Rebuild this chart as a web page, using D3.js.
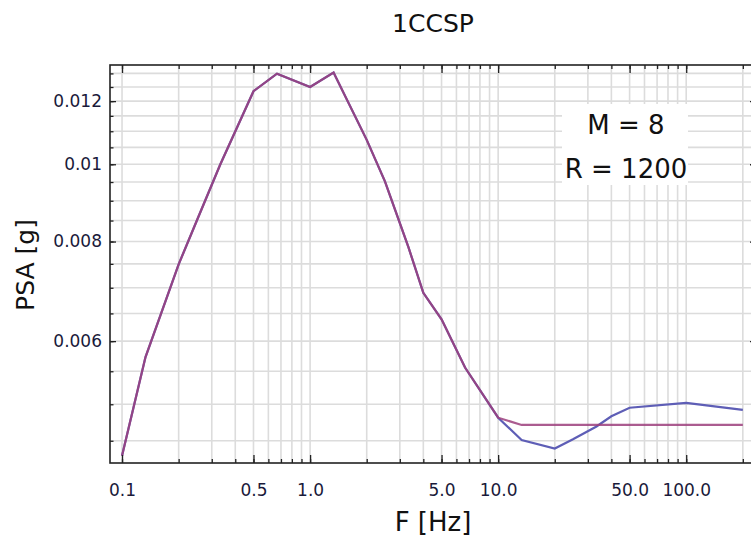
<!DOCTYPE html>
<html>
<head>
<meta charset="utf-8">
<script src="https://cdn.jsdelivr.net/npm/d3@7"></script>
<style>
  body { margin: 0; background: #fff; }
  svg { display: block; font-family: "DejaVu Sans", sans-serif; }
</style>
</head>
<body>
<svg id="chart" width="751" height="544"></svg>
<script>
// frequencies [Hz]
let freqs = [0.1, 0.1333, 0.2, 0.25, 0.3333, 0.5, 0.6667, 1, 1.333, 2, 2.5, 3.333, 4, 5, 6.667, 10,
             13.33, 20, 25, 33.33, 40, 50, 100, 200]

// PSA [g], two curves (they coincide below 10 Hz)
let psaBlue = [0.00431, 0.00573, 0.00749, 0.0085, 0.0100, 0.01235, 0.01299, 0.0125, 0.01303, 0.01073,
               0.00952, 0.00787, 0.0069, 0.00639, 0.00556, 0.00481,
               0.00451, 0.00440, 0.00452, 0.00469, 0.00483, 0.00495, 0.00502, 0.00492]
let psaPurple = [0.00431, 0.00573, 0.00749, 0.0085, 0.0100, 0.01235, 0.01299, 0.0125, 0.01303, 0.01073,
                 0.00952, 0.00787, 0.0069, 0.00639, 0.00556, 0.00481,
                 0.00471, 0.00471, 0.00471, 0.00471, 0.00471, 0.00471, 0.00471, 0.00471]

let xMajor = [0.1, 0.5, 1, 5, 10, 50, 100]
let xLabels = ['0.1', '0.5', '1.0', '5.0', '10.0', '50.0', '100.0']
let yMajor = [0.006, 0.008, 0.01, 0.012]
let yLabels = ['0.006', '0.008', '0.01', '0.012']

let title = '1CCSP'
let noteLines = ['M = 8', 'R = 1200']

// minor grid/tick positions
let xMinor = [0.1, 1, 10, 100].flatMap(d => d3.range(1, 10).map(k => +(k * d).toPrecision(3)))
    .filter(v => v <= 200)
let yMinor = d3.range(9, 27).map(k => +(k * 0.0005).toFixed(4))

let svg = d3.select('#chart')
let pLeft = 110, pRight = 756, pTop = 65, pBottom = 463

let x = d3.scaleLog().domain([0.0863, 235]).range([pLeft, pRight])
let y = d3.scaleLog().domain([0.00422, 0.01332]).range([pBottom, pTop])

// grid
svg.append('g').selectAll('line').data(xMinor).enter().append('line')
    .attr('x1', d => x(d)).attr('x2', d => x(d))
    .attr('y1', pTop).attr('y2', pBottom)
    .style('stroke', '#dcdcdc').style('stroke-width', 1.6)
svg.append('g').selectAll('line').data(yMinor).enter().append('line')
    .attr('x1', pLeft).attr('x2', pRight)
    .attr('y1', d => y(d)).attr('y2', d => y(d))
    .style('stroke', '#dcdcdc').style('stroke-width', 1.6)

// lines
let line = d3.line().x(d => x(d[0])).y(d => y(d[1]))
svg.append('path')
    .datum(freqs.map((f, i) => [f, psaBlue[i]]))
    .attr('d', line)
    .style('fill', 'none').style('stroke', '#5e5eb6').style('stroke-width', 2.2)
svg.append('path')
    .datum(freqs.map((f, i) => [f, psaPurple[i]]))
    .attr('d', line)
    .style('fill', 'none').style('stroke', '#9c3f7c').style('stroke-width', 2.2)
    .style('stroke-opacity', 0.85)

// note box
let note = svg.append('g')
note.append('rect')
    .attr('x', 562).attr('y', 104).attr('width', 126).attr('height', 81)
    .style('fill', '#fff')
note.selectAll('text').data(noteLines).enter().append('text')
    .attr('x', 626)
    .attr('y', (d, i) => 134 + i * 44)
    .attr('text-anchor', 'middle')
    .style('font-size', '26px')
    .style('fill', '#111')
    .text(d => d)

// axes: ticks point inward
let styleAxis = (g) => {
    g.select('.domain').remove()
    g.selectAll('line').style('stroke', '#222').style('stroke-width', 1.3)
    g.selectAll('text').style('font-size', '17px').style('fill', '#1a1a3a')
        .style('font-family', '"DejaVu Sans", sans-serif')
}

svg.append('g').attr('transform', 'translate(0,' + pBottom + ')')
    .call(d3.axisBottom(x).tickValues(xMinor).tickSize(-4).tickFormat(''))
    .call(styleAxis)
svg.append('g').attr('transform', 'translate(0,' + pBottom + ')')
    .call(d3.axisBottom(x).tickValues(xMajor).tickSize(-8).tickPadding(21)
        .tickFormat((d, i) => xLabels[i]))
    .call(styleAxis)
svg.append('g').attr('transform', 'translate(0,' + pTop + ')')
    .call(d3.axisTop(x).tickValues(xMinor).tickSize(-4).tickFormat(''))
    .call(styleAxis)
svg.append('g').attr('transform', 'translate(0,' + pTop + ')')
    .call(d3.axisTop(x).tickValues(xMajor).tickSize(-8).tickFormat(''))
    .call(styleAxis)

svg.append('g').attr('transform', 'translate(' + pLeft + ',0)')
    .call(d3.axisLeft(y).tickValues(yMinor).tickSize(-3.5).tickFormat(''))
    .call(styleAxis)
svg.append('g').attr('transform', 'translate(' + pLeft + ',0)')
    .call(d3.axisLeft(y).tickValues(yMajor).tickSize(-6).tickPadding(8)
        .tickFormat((d, i) => yLabels[i]))
    .call(styleAxis)
svg.append('g').attr('transform', 'translate(' + pRight + ',0)')
    .call(d3.axisRight(y).tickValues(yMinor).tickSize(-3.5).tickFormat(''))
    .call(styleAxis)
svg.append('g').attr('transform', 'translate(' + pRight + ',0)')
    .call(d3.axisRight(y).tickValues(yMajor).tickSize(-6).tickFormat(''))
    .call(styleAxis)

// frame
svg.append('rect')
    .attr('x', pLeft).attr('y', pTop)
    .attr('width', pRight - pLeft).attr('height', pBottom - pTop)
    .style('fill', 'none').style('stroke', '#222').style('stroke-width', 1.6)

// titles
svg.append('text')
    .attr('x', (pLeft + pRight) / 2).attr('y', 32)
    .attr('text-anchor', 'middle')
    .style('font-size', '25px').style('fill', '#111')
    .text(title)
svg.append('text')
    .attr('x', (pLeft + pRight) / 2).attr('y', 531)
    .attr('text-anchor', 'middle')
    .style('font-size', '26px').style('fill', '#111')
    .text('F [Hz]')
svg.append('text')
    .attr('transform', 'translate(34,' + ((pTop + pBottom) / 2 + 1) + ') rotate(-90)')
    .attr('text-anchor', 'middle')
    .style('font-size', '25px').style('fill', '#111')
    .text('PSA [g]')
</script>
</body>
</html>
